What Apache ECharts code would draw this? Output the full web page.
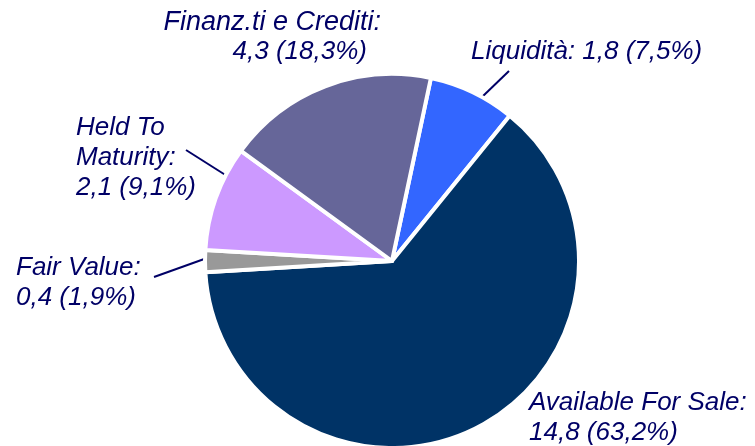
<!DOCTYPE html>
<html>
<head>
<meta charset="utf-8">
<script src="https://cdn.jsdelivr.net/npm/echarts@6/dist/echarts.min.js"></script>
<style>
  html, body { margin: 0; padding: 0; background: #fff; }
  #portfolio { width: 755px; height: 446px; }
</style>
</head>
<body>
<div id="portfolio"></div>
<script>
// portfolio breakdown (bn), clockwise from the top
const categories = ['Liquidità', 'Available For Sale', 'Fair Value', 'Held To\nMaturity', 'Finanz.ti e Crediti'];
const amounts = ['1,8', '14,8', '0,4', '2,1', '4,3'];
const shares = [7.5, 63.2, 1.9, 9.1, 18.3];
const colors = ['#3366FF', '#003366', '#999999', '#CC99FF', '#666699'];

// where each label sits (left/top of the text block, px) and its leader line
const labelPos = [
    {x: 471, y: 37, align: 'left', line: [[482, 97], [509, 71]]},
    {x: 529, y: 388, align: 'left', line: null},
    {x: 16, y: 253, align: 'left', line: [[207, 258], [154, 277]]},
    {x: 76, y: 113, align: 'left', line: [[227, 176], [186, 150]]},
    {x: 381, y: 7, align: 'right', line: null}
];

function pct(v) {
    return v.toFixed(1).replace('.', ',') + '%';
}

function pie_chart(element) {
    const chartDom = document.getElementById(element);
    const myChart = echarts.init(chartDom);

    const chart_data = categories.map((name, i) => ({
        name: name,
        value: shares[i],
        itemStyle: {color: colors[i]},
        label: {
            align: labelPos[i].align,
            formatter: i === 0
                ? name + ': ' + amounts[i] + ' (' + pct(shares[i]) + ')'
                : (i === 4
                    ? '{a|' + name + ':}\n{b|' + amounts[i] + ' (' + pct(shares[i]) + ')}'
                    : name + ':\n' + amounts[i] + ' (' + pct(shares[i]) + ')')
        },
        labelLine: {show: labelPos[i].line !== null}
    }));

    const txt = {color: '#000066', fontStyle: 'italic', fontSize: 26, lineHeight: 30, fontFamily: 'Liberation Sans'};

    const option = {
        animation: false,
        series: [
            {
                type: 'pie',
                center: [392, 261],
                radius: 187,
                startAngle: 78,
                clockwise: true,
                avoidLabelOverlap: false,
                itemStyle: {borderColor: '#fff', borderWidth: 4},
                label: Object.assign({
                    show: true,
                    rich: {
                        a: Object.assign({}, txt, {fontSize: 27}),
                        b: Object.assign({padding: [0, 14, 0, 0]}, txt)
                    }
                }, txt),
                labelLine: {lineStyle: {color: '#000066', width: 2}, length: 10, length2: 0},
                labelLayout: function (params) {
                    const p = labelPos[params.dataIndex];
                    const out = {x: p.x, y: p.y, align: p.align, verticalAlign: 'top'};
                    if (p.line) out.labelLinePoints = p.line;
                    return out;
                },
                emphasis: {disabled: true},
                data: chart_data
            }
        ]
    };

    myChart.setOption(option);
}

pie_chart('portfolio');
</script>
</body>
</html>
